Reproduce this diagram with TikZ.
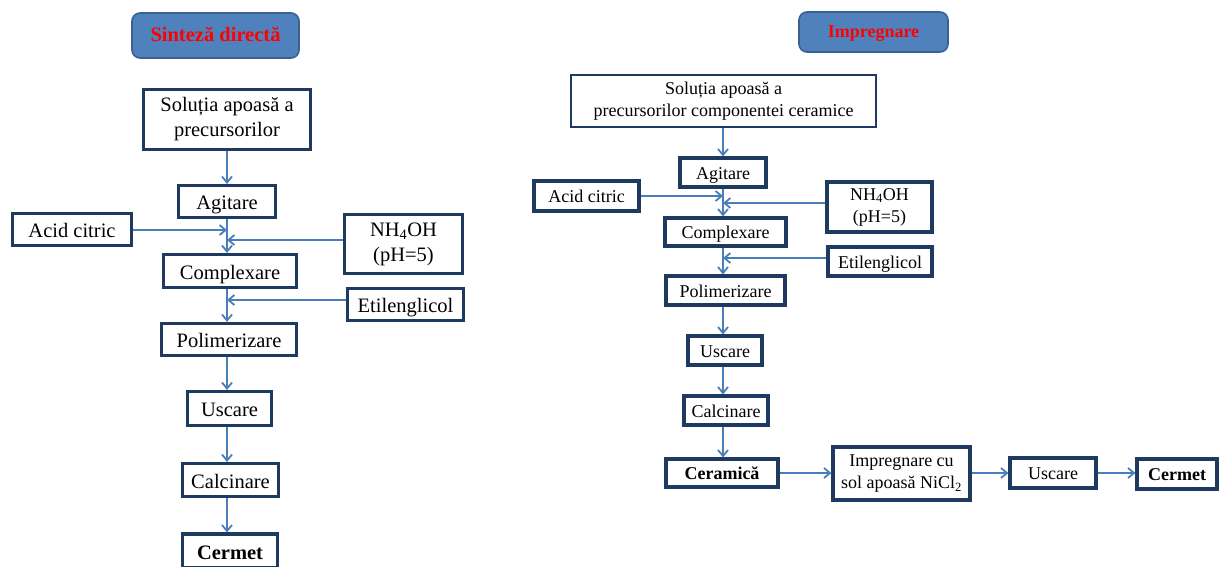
\documentclass[tikz,border=0pt]{standalone}
\usepackage{fontspec}
\setmainfont{Liberation Serif}
\usetikzlibrary{arrows.meta}
\definecolor{boxline}{HTML}{1F3A60}
\definecolor{arrcol}{HTML}{4A7EBB}
\definecolor{titlefill}{HTML}{4F81BD}
\definecolor{titleline}{HTML}{3A6190}
\begin{document}
\begin{tikzpicture}[x=1pt,y=-1pt,
  box/.style={draw=boxline, line width=3.2pt, fill=white, inner sep=0pt, align=center, text=black},
  bigtxt/.style={font=\fontsize{20.5}{25}\selectfont},
  smalltxt/.style={font=\fontsize{18}{22}\selectfont},
  bigone/.style={bigtxt, text height=18pt, text depth=2pt},
  smallone/.style={smalltxt, text height=15.4pt, text depth=1.8pt},
  titlebox/.style={draw=titleline, line width=1.6pt, fill=titlefill, rounded corners=8pt, text=red, inner sep=0pt},
  arr/.style={draw=arrcol, line width=2pt, -{Straight Barb[length=6pt,width=10pt,line width=1.8pt]}}
]
\useasboundingbox (0,0) rectangle (1220,566);
\clip (0,0) rectangle (1220,566);
% ---------- left ----------
\node[titlebox, minimum width=167pt, minimum height=45pt, font=\fontsize{20.5}{24}\selectfont\bfseries, text height=14.35pt, text depth=2.05pt] (t1) at (215.5,35.5) {Sinteză directă};
\node[box, bigtxt, minimum width=167pt, minimum height=60pt] (sol1) at (227,119.5) {Soluția apoasă a\\precursorilor};
\node[box, bigone, minimum width=97pt, minimum height=32pt] (agit1) at (227,201.5) {Agitare};
\node[box, bigone, minimum width=119pt, minimum height=32pt] (acid1) at (72,229.5) {Acid citric};
\node[box, bigtxt, minimum width=118pt, minimum height=59pt] (nh1) at (403.5,244) {NH\textsubscript{4}OH\\(pH=5)};
\node[box, bigone, minimum width=133pt, minimum height=33pt] (comp1) at (230,271) {Complexare};
\node[box, bigone, minimum width=116pt, minimum height=32pt] (eti1) at (405.5,304.5) {Etilenglicol};
\node[box, bigone, minimum width=135pt, minimum height=32pt] (poly1) at (229,339.5) {Polimerizare};
\node[box, bigone, minimum width=84pt, minimum height=34pt] (usc1) at (229.5,408.5) {Uscare};
\node[box, bigone, minimum width=96pt, minimum height=33pt] (calc1) at (230.5,480) {Calcinare};
\node[box, bigone, minimum width=95pt, minimum height=34pt, font=\fontsize{20.5}{25}\selectfont\bfseries] (cer1) at (230,551) {Cermet};
\coordinate (jA1) at (227,230);
\coordinate (jN1) at (227,240);
\coordinate (jE1) at (227,300);
\draw[arr] (sol1.south) -- (sol1.south |- agit1.north);
\draw[arr] (agit1.south) -- (agit1.south |- comp1.north);
\draw[arr] (acid1.east |- jA1) -- (jA1);
\draw[arr] (nh1.west |- jN1) -- (jN1);
\draw[arr] (comp1.south -| agit1) -- (agit1 |- poly1.north);
\draw[arr] (eti1.west |- jE1) -- (jE1);
\draw[arr] (poly1.south -| agit1) -- (agit1 |- usc1.north);
\draw[arr] (usc1.south -| agit1) -- (agit1 |- calc1.north);
\draw[arr] (calc1.south -| agit1) -- (agit1 |- cer1.north);
% ---------- right ----------
\node[titlebox, minimum width=149pt, minimum height=40pt, font=\fontsize{18}{22}\selectfont\bfseries, text height=12.6pt, text depth=1.8pt] (t2) at (873.5,32) {Impregnare};
\node[box, smalltxt, line width=2.4pt, minimum width=305pt, minimum height=52pt] (sol2) at (723.5,101) {Soluția apoasă a\\precursorilor componentei ceramice};
\node[box, smallone, minimum width=86pt, minimum height=29pt] (agit2) at (723,172.5) {Agitare};
\node[box, smallone, minimum width=105pt, minimum height=30pt] (acid2) at (586.5,196) {Acid citric};
\node[box, smalltxt, minimum width=105pt, minimum height=50pt] (nh2) at (879.5,207) {NH\textsubscript{4}OH\\(pH=5)};
\node[box, smallone, minimum width=121pt, minimum height=28pt] (comp2) at (725.5,232) {Complexare};
\node[box, smallone, minimum width=104pt, minimum height=29pt] (eti2) at (880,261.5) {Etilenglicol};
\node[box, smallone, minimum width=119pt, minimum height=29pt] (poly2) at (725.5,290.5) {Polimerizare};
\node[box, smallone, minimum width=74pt, minimum height=29pt] (usc2) at (725,350.5) {Uscare};
\node[box, smallone, minimum width=84pt, minimum height=29pt] (calc2) at (726,410.5) {Calcinare};
\node[box, smallone, minimum width=112pt, minimum height=28pt, font=\fontsize{18}{22}\selectfont\bfseries] (cerm2) at (722,473) {Ceramică};
\node[box, smalltxt, minimum width=137pt, minimum height=53pt] (imp2) at (901.5,473.5) {Impregnare cu\\sol apoasă NiCl\textsubscript{2}};
\node[box, smallone, minimum width=86pt, minimum height=30pt] (usc3) at (1053,473) {Uscare};
\node[box, smallone, minimum width=80pt, minimum height=30pt, font=\fontsize{18}{22}\selectfont\bfseries] (cer3) at (1177,474) {Cermet};
\coordinate (jA2) at (723,196);
\coordinate (jN2) at (723,203);
\coordinate (jE2) at (723,258);
\coordinate (h2) at (0,473);
\draw[arr] (sol2.south -| agit2) -- (agit2.north);
\draw[arr] (agit2.south) -- (agit2.south |- comp2.north);
\draw[arr] (acid2.east |- jA2) -- (jA2);
\draw[arr] (nh2.west |- jN2) -- (jN2);
\draw[arr] (comp2.south -| agit2) -- (agit2 |- poly2.north);
\draw[arr] (eti2.west |- jE2) -- (jE2);
\draw[arr] (poly2.south -| agit2) -- (agit2 |- usc2.north);
\draw[arr] (usc2.south -| agit2) -- (agit2 |- calc2.north);
\draw[arr] (calc2.south -| agit2) -- (agit2 |- cerm2.north);
\draw[arr] (cerm2.east |- h2) -- (imp2.west |- h2);
\draw[arr] (imp2.east |- h2) -- (usc3.west |- h2);
\draw[arr] (usc3.east |- h2) -- (cer3.west |- h2);
\end{tikzpicture}
\end{document}
